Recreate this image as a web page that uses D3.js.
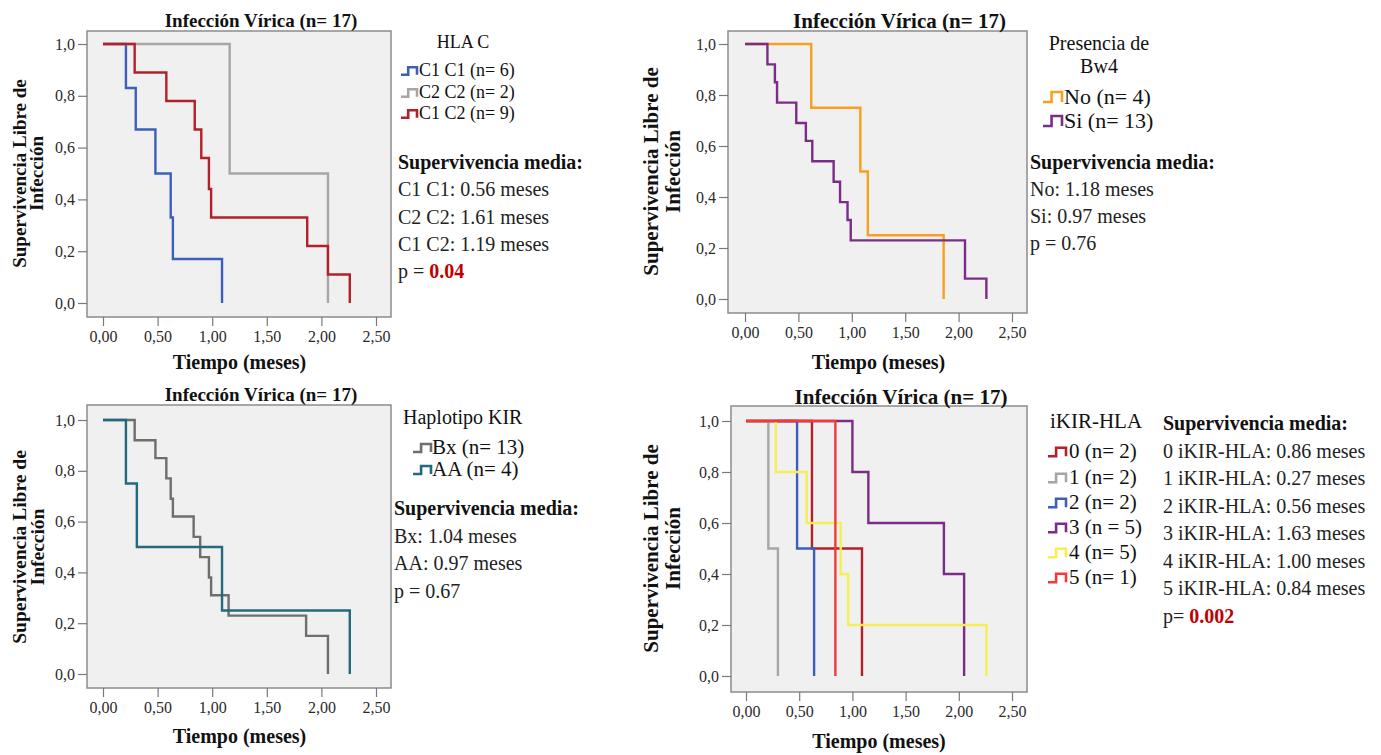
<!DOCTYPE html>
<html>
<head>
<meta charset="utf-8">
<script src="https://cdn.jsdelivr.net/npm/d3@7"></script>
<style>
  html, body { margin: 0; padding: 0; background: #ffffff; }
  svg { display: block; }
  text { font-family: "Liberation Serif", "Times New Roman", serif; }
</style>
</head>
<body>
<svg id="chart" width="1381" height="755"></svg>
<script>
// ---- Shared labels ----
const plotTitle = "Infección Vírica (n= 17)";
const xAxisTitle = "Tiempo (meses)";
const yAxisTitle = ["Supervivencia Libre de", "Infección"];
const xTicks = [0, 0.5, 1.0, 1.5, 2.0, 2.5];
const yTicks = [0, 0.2, 0.4, 0.6, 0.8, 1.0];
const statsHeading = "Supervivencia media:";

// ---- HLA C ----
const hlaTitle = ["HLA C"];
const hlaLabels = ["C1 C1 (n= 6)", "C2 C2 (n= 2)", "C1 C2 (n= 9)"];
const hlaC1C1Time = [0, 0.21, 0.30, 0.48, 0.62, 0.64, 1.09];
const hlaC1C1Surv = [1, 0.83, 0.67, 0.50, 0.33, 0.17, 0];
const hlaC2C2Time = [0, 1.16, 2.06];
const hlaC2C2Surv = [1, 0.50, 0];
const hlaC1C2Time = [0, 0.29, 0.58, 0.84, 0.90, 0.97, 0.99, 1.87, 2.06, 2.26];
const hlaC1C2Surv = [1, 0.89, 0.78, 0.67, 0.56, 0.44, 0.33, 0.22, 0.11, 0];
const hlaStats = ["C1 C1: 0.56 meses", "C2 C2: 1.61 meses", "C1 C2: 1.19 meses"];
const hlaP = { prefix: "p = ", value: "0.04", significant: true };

// ---- Presencia de Bw4 ----
const bw4Title = ["Presencia de", "Bw4"];
const bw4Labels = ["No (n= 4)", "Si (n= 13)"];
const bw4NoTime = [0, 0.62, 1.08, 1.15, 1.86];
const bw4NoSurv = [1, 0.75, 0.50, 0.25, 0];
const bw4SiTime = [0, 0.21, 0.28, 0.30, 0.48, 0.57, 0.63, 0.83, 0.89, 0.96, 0.99, 2.06, 2.26];
const bw4SiSurv = [1, 0.92, 0.85, 0.77, 0.69, 0.62, 0.54, 0.46, 0.38, 0.31, 0.23, 0.08, 0];
const bw4Stats = ["No: 1.18 meses", "Si: 0.97 meses"];
const bw4P = { prefix: "p = ", value: "0.76", significant: false };

// ---- Haplotipo KIR ----
const kirTitle = ["Haplotipo KIR"];
const kirLabels = ["Bx (n= 13)", "AA (n= 4)"];
const kirBxTime = [0, 0.29, 0.48, 0.58, 0.62, 0.64, 0.83, 0.89, 0.97, 0.99, 1.15, 1.86, 2.06];
const kirBxSurv = [1, 0.92, 0.85, 0.77, 0.69, 0.62, 0.54, 0.46, 0.38, 0.31, 0.23, 0.15, 0];
const kirAATime = [0, 0.21, 0.31, 1.09, 2.26];
const kirAASurv = [1, 0.75, 0.50, 0.25, 0];
const kirStats = ["Bx: 1.04 meses", "AA: 0.97 meses"];
const kirP = { prefix: "p = ", value: "0.67", significant: false };

// ---- iKIR-HLA ----
const ikTitle = ["iKIR-HLA"];
const ikLabels = ["0 (n= 2)", "1 (n= 2)", "2 (n= 2)", "3 (n = 5)", "4 (n= 5)", "5 (n= 1)"];
const ik0Time = [0, 0.62, 1.09];
const ik0Surv = [1, 0.50, 0];
const ik1Time = [0, 0.21, 0.30];
const ik1Surv = [1, 0.50, 0];
const ik2Time = [0, 0.48, 0.64];
const ik2Surv = [1, 0.50, 0];
const ik3Time = [0, 1.00, 1.15, 1.86, 2.05];
const ik3Surv = [1, 0.80, 0.60, 0.40, 0];
const ik4Time = [0, 0.28, 0.57, 0.89, 0.96, 2.26];
const ik4Surv = [1, 0.80, 0.60, 0.40, 0.20, 0];
const ik5Time = [0, 0.84];
const ik5Surv = [1, 0];
const ikStats = ["0 iKIR-HLA: 0.86 meses", "1 iKIR-HLA: 0.27 meses", "2 iKIR-HLA: 0.56 meses",
                 "3 iKIR-HLA: 1.63 meses", "4 iKIR-HLA: 1.00 meses", "5 iKIR-HLA: 0.84 meses"];
const ikP = { prefix: "p= ", value: "0.002", significant: true };

// ---- Colours ----
const colBlue = "#3d5fba", colGrey = "#a6a6a6", colDarkRed = "#b2212a",
      colOrange = "#f7a01f", colPurple = "#7b2c88", colDarkGrey = "#6e6e6e",
      colTeal = "#23697f", colYellow = "#f6ee55", colRed = "#f23a3a";

const zip = (t, s) => t.map((v, i) => ({ t: v, s: s[i] }));

// Decimal comma for the axes
const esLocale = d3.formatLocale({ decimal: ",", thousands: ".", grouping: [3], currency: ["", " €"] });
const fmtY = esLocale.format(".1f");
const fmtX = esLocale.format(".2f");

// Panel layout
const panels = [
  {
    frame: { x0: 87, x1: 391, y0: 31, y1: 317 }, xr: [103, 376], yr: [303, 44],
    titleY: 27, titleSize: 19, yTitleX: [19, 36], yTitleSize: 19, xTitleY: 369,
    series: [
      { pts: zip(hlaC1C1Time, hlaC1C1Surv), color: colBlue, label: hlaLabels[0] },
      { pts: zip(hlaC2C2Time, hlaC2C2Surv), color: colGrey, label: hlaLabels[1] },
      { pts: zip(hlaC1C2Time, hlaC1C2Surv), color: colDarkRed, label: hlaLabels[2] }
    ],
    legend: { title: hlaTitle, titleX: 463, titleAnchor: "middle", titleY: [42], titleSize: 18,
              itemSize: 18, symX: 401, symW: 16, symH: 7.5, textX: 419, itemsY: [70, 92, 113] },
    stats: { x: 398, y0: 162, step: 27.3, lines: hlaStats, p: hlaP }
  },
  {
    frame: { x0: 728, x1: 1027, y0: 31, y1: 313 }, xr: [745, 1012], yr: [299, 44],
    titleY: 28, titleSize: 21, yTitleX: [651, 673], yTitleSize: 21, xTitleY: 369,
    series: [
      { pts: zip(bw4NoTime, bw4NoSurv), color: colOrange, label: bw4Labels[0] },
      { pts: zip(bw4SiTime, bw4SiSurv), color: colPurple, label: bw4Labels[1] }
    ],
    legend: { title: bw4Title, titleX: 1099, titleAnchor: "middle", titleY: [43, 66], titleSize: 20,
              itemSize: 22, symX: 1043, symW: 19, symH: 10, textX: 1064, itemsY: [96, 120] },
    stats: { x: 1030, y0: 162, step: 27, lines: bw4Stats, p: bw4P }
  },
  {
    frame: { x0: 87, x1: 391, y0: 405, y1: 688 }, xr: [103, 376], yr: [674, 420],
    titleY: 401, titleSize: 19, yTitleX: [19, 37], yTitleSize: 19.5, xTitleY: 743,
    series: [
      { pts: zip(kirBxTime, kirBxSurv), color: colDarkGrey, label: kirLabels[0] },
      { pts: zip(kirAATime, kirAASurv), color: colTeal, label: kirLabels[1] }
    ],
    legend: { title: kirTitle, titleX: 403, titleAnchor: "start", titleY: [417], titleSize: 20,
              itemSize: 21, symX: 413, symW: 18, symH: 8, textX: 432, itemsY: [447, 469] },
    stats: { x: 394, y0: 508, step: 27.5, lines: kirStats, p: kirP }
  },
  {
    frame: { x0: 731, x1: 1027, y0: 406, y1: 692 }, xr: [746, 1012], yr: [676, 421],
    titleY: 404, titleSize: 21, yTitleX: [651, 673], yTitleSize: 21, xTitleY: 748,
    series: [
      { pts: zip(ik0Time, ik0Surv), color: colDarkRed, label: ikLabels[0] },
      { pts: zip(ik1Time, ik1Surv), color: colGrey, label: ikLabels[1] },
      { pts: zip(ik2Time, ik2Surv), color: colBlue, label: ikLabels[2] },
      { pts: zip(ik3Time, ik3Surv), color: colPurple, label: ikLabels[3] },
      { pts: zip(ik4Time, ik4Surv), color: colYellow, label: ikLabels[4] },
      { pts: zip(ik5Time, ik5Surv), color: colRed, label: ikLabels[5] }
    ],
    legend: { title: ikTitle, titleX: 1096, titleAnchor: "middle", titleY: [421], titleSize: 21,
              itemSize: 21, symX: 1048, symW: 18, symH: 8.5, textX: 1069, itemsY: [451, 477, 502, 527, 552, 577] },
    stats: { x: 1163, y0: 423, step: 27.5, lines: ikStats, p: ikP }
  }
];

const svg = d3.select("#chart");

function drawPanel(cfg) {
  const g = svg.append("g");
  const f = cfg.frame;
  const x = d3.scaleLinear().domain([0, 2.5]).range(cfg.xr);
  const y = d3.scaleLinear().domain([0, 1]).range(cfg.yr);

  // plot area
  g.append("rect")
    .attr("x", f.x0).attr("y", f.y0)
    .attr("width", f.x1 - f.x0).attr("height", f.y1 - f.y0)
    .attr("fill", "#f0f0f0").attr("stroke", "#8c8c8c").attr("stroke-width", 1.5);

  // axes hang off the frame edges
  const yAxis = g.append("g").attr("transform", `translate(${f.x0},0)`)
    .call(d3.axisLeft(y).tickValues(yTicks).tickFormat(fmtY).tickSize(9).tickPadding(3));
  const xAxis = g.append("g").attr("transform", `translate(0,${f.y1})`)
    .call(d3.axisBottom(x).tickValues(xTicks).tickFormat(fmtX).tickSize(9).tickPadding(5));
  [xAxis, yAxis].forEach(a => {
    a.select(".domain").remove();
    a.selectAll(".tick line").attr("stroke", "#7a7a7a").attr("stroke-width", 1.2);
    a.selectAll(".tick text")
      .attr("fill", "#2a2a2a")
      .style("font-family", "'Liberation Serif', serif")
      .style("font-size", "16px");
  });

  // survival step curves
  const line = d3.line().x(d => x(d.t)).y(d => y(d.s)).curve(d3.curveStepAfter);
  g.append("g").selectAll("path").data(cfg.series).join("path")
    .attr("d", d => line(d.pts))
    .attr("fill", "none")
    .attr("stroke", d => d.color)
    .attr("stroke-width", 2.4)
    .attr("stroke-linejoin", "miter");

  // titles
  g.append("text")
    .attr("x", (f.x0 + f.x1) / 2 + 22).attr("y", cfg.titleY)
    .attr("text-anchor", "middle").attr("font-weight", "bold")
    .attr("font-size", cfg.titleSize).attr("fill", "#111")
    .text(plotTitle);
  g.append("text")
    .attr("x", (cfg.xr[0] + cfg.xr[1]) / 2).attr("y", cfg.xTitleY)
    .attr("text-anchor", "middle").attr("font-weight", "bold")
    .attr("font-size", 20).attr("fill", "#111")
    .text(xAxisTitle);
  const yc = (cfg.yr[0] + cfg.yr[1]) / 2;
  yAxisTitle.forEach((t, i) => {
    g.append("text")
      .attr("transform", `translate(${cfg.yTitleX[i]},${yc}) rotate(-90)`)
      .attr("text-anchor", "middle").attr("dy", "0.35em")
      .attr("font-weight", "bold").attr("font-size", cfg.yTitleSize).attr("fill", "#111")
      .text(t);
  });

  // legend
  const L = cfg.legend;
  L.title.forEach((t, i) => {
    g.append("text")
      .attr("x", L.titleX).attr("y", L.titleY[i]).attr("dy", "0.35em")
      .attr("text-anchor", L.titleAnchor).attr("font-size", L.titleSize).attr("fill", "#111")
      .text(t);
  });
  cfg.series.forEach((s, i) => {
    const cy = L.itemsY[i] + 1, sx = L.symX, w = L.symW, h = L.symH;
    g.append("path")
      .attr("d", `M${sx},${cy + h / 2}H${sx + w * 0.45}V${cy - h / 2}H${sx + w}V${cy + h / 2}`)
      .attr("fill", "none").attr("stroke", s.color).attr("stroke-width", 2.6);
    g.append("text")
      .attr("x", L.textX).attr("y", L.itemsY[i]).attr("dy", "0.35em")
      .attr("font-size", L.itemSize).attr("fill", "#111")
      .text(s.label);
  });

  // median survival summary
  const S = cfg.stats;
  g.append("text")
    .attr("x", S.x).attr("y", S.y0).attr("dy", "0.35em")
    .attr("font-weight", "bold").attr("font-size", 20).attr("fill", "#111")
    .text(statsHeading);
  S.lines.forEach((t, i) => {
    g.append("text")
      .attr("x", S.x).attr("y", S.y0 + S.step * (i + 1)).attr("dy", "0.35em")
      .attr("font-size", 20).attr("fill", "#222")
      .text(t);
  });
  const pt = g.append("text")
    .attr("x", S.x).attr("y", S.y0 + S.step * (S.lines.length + 1)).attr("dy", "0.35em")
    .attr("font-size", 20).attr("fill", "#222");
  pt.append("tspan").text(S.p.prefix);
  pt.append("tspan")
    .attr("font-weight", S.p.significant ? "bold" : "normal")
    .attr("fill", S.p.significant ? "#c00000" : "#222")
    .text(S.p.value);
}

panels.forEach(drawPanel);
</script>
</body>
</html>
